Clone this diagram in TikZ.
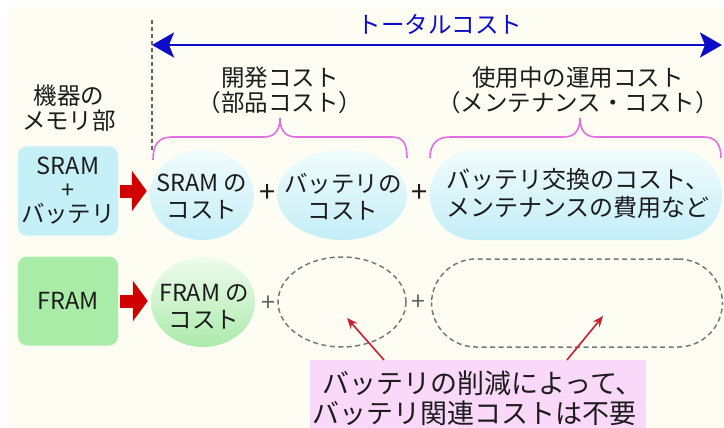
\documentclass[tikz,border=0pt]{standalone}
\usepackage{fontspec}
\setmainfont{Noto Sans CJK JP}
\usetikzlibrary{shapes.geometric,arrows.meta}
\definecolor{cream}{RGB}{253,253,243}
\definecolor{txt}{RGB}{28,28,28}
\definecolor{sblue}{RGB}{198,240,248}
\definecolor{ltop}{RGB}{240,252,252}
\definecolor{lbot}{RGB}{196,238,248}
\definecolor{gbox}{RGB}{168,236,168}
\definecolor{gtop}{RGB}{238,252,236}
\definecolor{gbot}{RGB}{172,234,172}
\definecolor{tblue}{RGB}{12,12,200}
\definecolor{brc}{RGB}{224,112,224}
\definecolor{pinkbg}{RGB}{250,216,250}
\definecolor{ared}{RGB}{208,0,0}
\definecolor{tred}{RGB}{200,30,50}
\definecolor{dgray}{RGB}{120,120,120}
\definecolor{vgray}{RGB}{100,100,100}
\begin{document}
\begin{tikzpicture}[x=1pt,y=-1pt,
  every node/.style={inner sep=0pt, text=txt},
  memtxt/.style={font=\fontsize{23.5}{24}\selectfont, align=center},
  costtxt/.style={font=\fontsize{23.5}{27}\selectfont, align=center},
  hdr/.style={font=\fontsize{23.5}{25}\selectfont, align=center},
  membox/.style={rounded corners=9pt, minimum width=100pt, minimum height=89pt},
  costell/.style={ellipse, minimum height=90pt},
  stadium/.style={rounded corners=44.5pt, minimum width=292pt, minimum height=90pt},
  dashshape/.style={draw=dgray, dash pattern=on 5pt off 3.5pt, line width=1.5pt},
  bracepath/.style={draw=brc, line width=1.6pt},
  blockarrow/.style={draw=ared, line width=13pt, -{Triangle[length=15pt,width=40pt]}, shorten <=2pt, shorten >=3pt},
  notearrow/.style={draw=tred, line width=1.6pt, -{Stealth[length=11pt,width=9pt]}},
  plus/.style={font=\fontsize{29}{29}\selectfont},
  gplus/.style={font=\fontsize{25}{25}\selectfont, text=vgray}]
\useasboundingbox (0,0) rectangle (724,428);
\fill[white] (0,0) rectangle (724,428);
\fill[cream, rounded corners=8pt] (7,7) rectangle (740,440);

% total cost arrow
\coordinate (tl) at (152,45);
\coordinate (tr) at (722,45);
\draw[vgray, dash pattern=on 4pt off 3pt, line width=1.3pt] (152,20) -- (152,150);
\draw[tblue, line width=2.8pt, {Stealth[length=22pt,width=25pt,inset=5pt]}-{Stealth[length=22pt,width=25pt,inset=5pt]}] (tl) -- (tr);
\node[hdr, text=tblue] (tot) at (440,24) {トータルコスト};

% headers
\node[hdr] (dev) at (280,90) {開発コスト\\（部品コスト）};
\node[hdr] (ops) at (578,90) {使用中の運用コスト\\（メンテナンス・コスト）};
\node[hdr] (mem) at (69,108) {機器の\\メモリ部};

% row 1
\node[membox, fill=sblue, memtxt] (sram) at (68,191) {SRAM\\+\\バッテリ};
\node[costell, minimum width=104pt, top color=ltop, bottom color=lbot] (s1) at (202,195) {};
\node[costtxt] (s1t) at (202,197) {SRAM の\\コスト};
\node[plus] (p1) at (268,193) {+};
\node[costell, minimum width=130pt, top color=ltop, bottom color=lbot] (b1) at (342,195) {};
\node[costtxt] (b1t) at (343,197) {バッテリの\\コスト};
\node[plus] (p2) at (420,193) {+};
\node[stadium, top color=ltop, bottom color=lbot] (m1) at (576,195) {};
\node[costtxt, font=\fontsize{24}{28}\selectfont] (m1t) at (578,193) {バッテリ交換のコスト、\\メンテナンスの費用など};

% braces
\draw[bracepath] (153,160) .. controls (153,145) and (158,137) .. (172,137) -- (264,137) .. controls (274,137) and (280,131) .. (280,118) .. controls (280,131) and (286,137) .. (296,137) -- (392,137) .. controls (404,137) and (407,145) .. (407,158);
\draw[bracepath] (430,158) .. controls (430,145) and (436,137) .. (450,137) -- (564,137) .. controls (574,137) and (580,131) .. (580,118) .. controls (580,131) and (586,137) .. (596,137) -- (704,137) .. controls (716,137) and (721,145) .. (721,158);

% row 2
\node[membox, fill=gbox, memtxt] (fram) at (68,301) {FRAM};
\node[costell, minimum width=104pt, top color=gtop, bottom color=gbot] (f1) at (203,302) {};
\node[costtxt] (f1t) at (204,307) {FRAM の\\コスト};
\node[gplus] (p3) at (268,304) {+};
\node[costell, dashshape, minimum width=128pt] (d1) at (342,302) {};
\node[gplus] (p4) at (418,303) {+};
\node[stadium, dashshape, minimum width=291pt, minimum height=88pt] (d2) at (577,303) {};

% block arrows
\draw[blockarrow] (sram.east) -- (sram.east -| s1.west);
\draw[blockarrow] (fram.east) -- (fram.east -| f1.west);

% note
\node[fill=pinkbg, minimum width=336pt, minimum height=76pt, anchor=north west] (note) at (310,360) {};
\node[font=\fontsize{27}{30}\selectfont, align=left, anchor=west] (notet) at (312,398) {\hspace*{10pt}バッテリの削減によって、\\バッテリ関連コストは不要};
\coordinate (h1) at (347,318);
\coordinate (h2) at (603,316);
\draw[notearrow] ([xshift=74pt]note.north west) -- (h1);
\draw[notearrow] ([xshift=257pt]note.north west) -- (h2);
\end{tikzpicture}
\end{document}
